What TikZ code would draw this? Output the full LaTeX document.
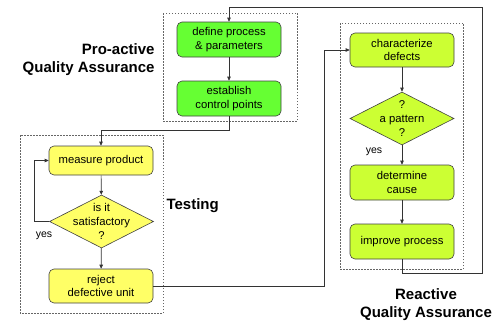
\documentclass[tikz,border=0pt]{standalone}
\usepackage{fontspec}
\setmainfont{Liberation Sans}
\usetikzlibrary{shapes.geometric,arrows.meta}
\definecolor{gnode}{RGB}{102,255,51}
\definecolor{lnode}{RGB}{204,255,51}
\definecolor{ynode}{RGB}{255,255,102}
\begin{document}
\begin{tikzpicture}[x=1pt,y=-1pt,
  box/.style={draw=black!75, line width=0.6pt, rounded corners=5pt, minimum width=104pt, align=center, inner sep=1pt, font=\fontsize{11.3}{13.8}\selectfont},
  dia/.style={draw=black!75, line width=0.6pt, diamond, minimum width=104pt, minimum height=53pt, inner sep=0pt},
  dtext/.style={align=center, font=\fontsize{11.3}{13.8}\selectfont},
  grp/.style={draw=black!60, line width=0.5pt, dash pattern=on 1.5pt off 1.5pt},
  arr/.style={draw=black!80, line width=0.7pt, -{Triangle[length=4pt,width=3.5pt]}},
  title/.style={font=\fontsize{15}{18}\selectfont\bfseries, align=center},
  lbl/.style={font=\fontsize{10.5}{12}\selectfont}]
\useasboundingbox (0,0) rectangle (501,324);
% groups
\draw[grp] (163,13) rectangle (297,121);
\draw[grp] (20,135) rectangle (163,313);
\draw[grp] (340,23) rectangle (463,269);
% nodes
\node[box, fill=gnode, minimum height=35pt] (dp) at (229,39.5) {define process\\\& parameters};
\node[box, fill=gnode, minimum height=35pt] (ec) at (229,98.5) {establish\\control points};
\node[box, fill=ynode, minimum height=29pt] (mp) at (101,160.5) {measure product};
\node[dia, fill=ynode] (d1) at (101.5,221.5) {};
\node[dtext] (t1) at (d1) {is it\\satisfactory\\?};
\node[box, fill=ynode, minimum height=34pt] (rj) at (101,286) {reject\\defective unit};
\node[box, fill=lnode, minimum height=34pt] (cd) at (402,50) {characterize\\defects};
\node[dia, fill=lnode] (d2) at (402,118.5) {};
\node[dtext] (t2) at (d2) {?\\a pattern\\?};
\node[box, fill=lnode, minimum height=35pt] (dc) at (402,182.5) {determine\\cause};
\node[box, fill=lnode, minimum height=35pt] (ip) at (402,241.5) {improve process};
% labels
\node[title, align=right, anchor=east] (pa) at (158,60) {Pro-active\\Quality Assurance};
\node[title, anchor=west] (te) at (163,206) {Testing};
\node[title] (ra) at (426,305) {Reactive\\Quality Assurance};
\node[lbl] (y1) at (44,236) {yes};
\node[lbl] (y2) at (374,152) {yes};
% helper coordinates
\coordinate (c1) at (229,130);
\coordinate (c2) at (34,221.5);
\coordinate (c3) at (324,286);
\coordinate (c4) at (402,273);
\coordinate (c5) at (482,273);
\coordinate (c6) at (482,7);
\coordinate (c7) at (229,7);
% connectors
\draw[arr] (dp) -- (ec);
\draw[arr] (ec.south) -- (c1) -| (mp.north);
\draw[arr] (mp) -- (d1);
\draw[arr] (d1) -- (rj);
\draw[arr] (d1.west) -- (c2) |- (mp.west);
\draw[arr] (rj.east) -- (c3) |- (cd.west);
\draw[arr] (cd) -- (d2);
\draw[arr] (d2) -- (dc);
\draw[arr] (dc) -- (ip);
\draw[arr] (ip.south) -- (c4) -- (c5) -- (c6) -- (c7) -- (dp.north);
\end{tikzpicture}
\end{document}
